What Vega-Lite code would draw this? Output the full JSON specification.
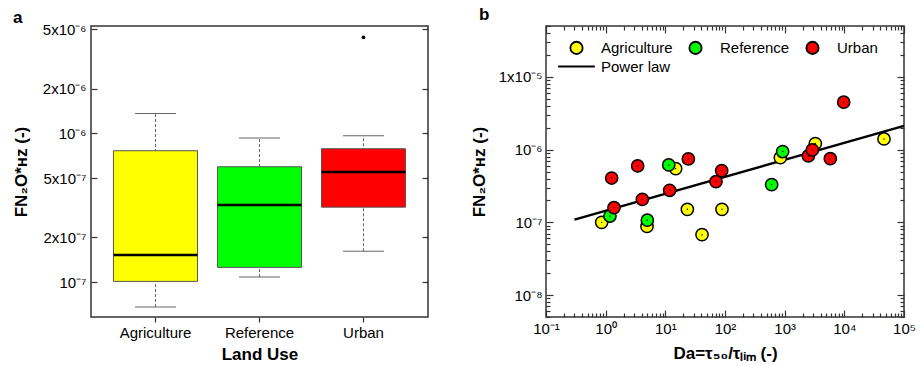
{
  "$schema": "https://vega.github.io/schema/vega-lite/v6.json",
  "padding": {"left": 11, "top": 5, "right": 5, "bottom": 0},
  "resolve": {"scale": {"fill": "independent", "shape": "independent"}, "legend": {"fill": "independent", "shape": "independent"}},
  "config": {
    "font": "Liberation Sans",
    "view": {"stroke": "#333", "strokeWidth": 1.5},
    "axis": {"domain": false, "grid": false, "labelFont": "Liberation Sans", "labelFontSize": 15, "labelColor": "#000", "titleFont": "Liberation Sans", "titleFontSize": 17, "titleFontWeight": "bold", "titleColor": "#000", "tickColor": "#333", "tickWidth": 1.2, "labelFlush": false, "labelOverlap": false},
    "title": {"font": "Liberation Sans", "fontSize": 17, "fontWeight": "bold", "anchor": "start", "frame": "group", "color": "#000"},
    "concat": {"spacing": 39}
  },
  "datasets": {
    "boxes": [
      {"land": "Agriculture", "lower": 6.79e-8, "q1": 1.01e-7, "median": 1.52e-7, "q3": 7.64e-7, "upper": 1.36e-6},
      {"land": "Reference", "lower": 1.08e-7, "q1": 1.255e-7, "median": 3.30e-7, "q3": 5.96e-7, "upper": 9.3e-7},
      {"land": "Urban", "lower": 1.61e-7, "q1": 3.19e-7, "median": 5.49e-7, "q3": 7.88e-7, "upper": 9.64e-7}
    ],
    "outliers": [
      {"land": "Urban", "value": 4.42e-6}
    ],
    "points": [
      {"group": "Agriculture", "da": 0.857, "fn": 1.0e-7},
      {"group": "Agriculture", "da": 4.93, "fn": 8.8e-8},
      {"group": "Agriculture", "da": 14.9, "fn": 5.48e-7},
      {"group": "Agriculture", "da": 23.4, "fn": 1.51e-7},
      {"group": "Agriculture", "da": 41.2, "fn": 6.77e-8},
      {"group": "Agriculture", "da": 89, "fn": 1.51e-7},
      {"group": "Agriculture", "da": 846, "fn": 7.76e-7},
      {"group": "Agriculture", "da": 3266, "fn": 1.21e-6},
      {"group": "Agriculture", "da": 46200, "fn": 1.40e-6},
      {"group": "Reference", "da": 1.18, "fn": 1.22e-7},
      {"group": "Reference", "da": 4.99, "fn": 1.07e-7},
      {"group": "Reference", "da": 11.4, "fn": 6.15e-7},
      {"group": "Reference", "da": 605, "fn": 3.30e-7},
      {"group": "Reference", "da": 925, "fn": 9.4e-7},
      {"group": "Urban", "da": 1.26, "fn": 4.07e-7},
      {"group": "Urban", "da": 1.38, "fn": 1.59e-7},
      {"group": "Urban", "da": 3.44, "fn": 5.96e-7},
      {"group": "Urban", "da": 4.12, "fn": 2.07e-7},
      {"group": "Urban", "da": 11.8, "fn": 2.76e-7},
      {"group": "Urban", "da": 24.3, "fn": 7.44e-7},
      {"group": "Urban", "da": 70.6, "fn": 3.63e-7},
      {"group": "Urban", "da": 88, "fn": 5.14e-7},
      {"group": "Urban", "da": 2494, "fn": 8.19e-7},
      {"group": "Urban", "da": 2910, "fn": 9.9e-7},
      {"group": "Urban", "da": 5820, "fn": 7.5e-7},
      {"group": "Urban", "da": 9750, "fn": 4.48e-6}
    ],
    "powerlaw": [
      {"da": 0.3, "fn": 1.09e-7},
      {"da": 100000, "fn": 2.12e-6}
    ]
  },
  "hconcat": [
    {
      "title": {"text": "a", "dx": -78, "offset": -5},
      "width": 337,
      "height": 291,
      "resolve": {"axis": {"y": "independent"}},
      "layer": [
        {
          "data": {"name": "boxes"},
          "mark": {"type": "rule", "strokeDash": [3, 2], "color": "#666", "strokeWidth": 1},
          "encoding": {
            "x": {"field": "land", "type": "nominal", "scale": {"paddingInner": 0.192, "paddingOuter": 0.216},
              "axis": {"title": "Land Use", "labelAngle": 0, "tickSize": 5, "labelPadding": 3, "titlePadding": 6}},
            "y": {"field": "lower", "type": "quantitative", "scale": {"type": "log", "domain": [5.82e-8, 5.27e-6], "nice": false},
              "axis": {"title": "FN₂O*ʜᴢ (-)", "values": [1e-7, 2e-7, 5e-7, 1e-6, 2e-6, 5e-6],
                "labelExpr": "datum.value < 1.5e-7 ? '10⁻⁷' : datum.value < 3e-7 ? '2x10⁻⁷' : datum.value < 7e-7 ? '5x10⁻⁷' : datum.value < 1.5e-6 ? '10⁻⁶' : datum.value < 3e-6 ? '2x10⁻⁶' : '5x10⁻⁶'",
                "tickSize": -6, "labelPadding": 11, "titlePadding": 12}},
            "y2": {"field": "upper"}
          }
        },
        {
          "data": {"name": "boxes"},
          "mark": {"type": "bar", "stroke": "#555", "strokeWidth": 1},
          "encoding": {
            "x": {"field": "land", "type": "nominal"},
            "y": {"field": "q1", "type": "quantitative",
              "axis": {"orient": "right", "title": null, "labels": false, "values": [1e-7, 2e-7, 5e-7, 1e-6, 2e-6, 5e-6], "tickSize": -6, "minExtent": 0, "maxExtent": 0}},
            "y2": {"field": "q3"},
            "fill": {"field": "land", "type": "nominal", "scale": {"domain": ["Agriculture", "Reference", "Urban"], "range": ["#ffff00", "#00ff00", "#ff0000"]}, "legend": null}
          }
        },
        {
          "data": {"name": "boxes"},
          "mark": {"type": "tick", "color": "#000", "thickness": 2.5, "size": 84, "opacity": 1},
          "encoding": {
            "x": {"field": "land", "type": "nominal"},
            "y": {"field": "median", "type": "quantitative", "axis": null}
          }
        },
        {
          "data": {"name": "boxes"},
          "mark": {"type": "tick", "color": "#666", "thickness": 1, "size": 41, "opacity": 1},
          "encoding": {
            "x": {"field": "land", "type": "nominal"},
            "y": {"field": "lower", "type": "quantitative", "axis": null}
          }
        },
        {
          "data": {"name": "boxes"},
          "mark": {"type": "tick", "color": "#666", "thickness": 1, "size": 41, "opacity": 1},
          "encoding": {
            "x": {"field": "land", "type": "nominal"},
            "y": {"field": "upper", "type": "quantitative", "axis": null}
          }
        },
        {
          "data": {"name": "outliers"},
          "mark": {"type": "point", "filled": true, "color": "#000", "size": 14, "opacity": 1},
          "encoding": {
            "x": {"field": "land", "type": "nominal"},
            "y": {"field": "value", "type": "quantitative", "axis": null}
          }
        }
      ]
    },
    {
      "title": {"text": "b", "dx": -67, "offset": -5},
      "width": 358,
      "height": 291,
      "resolve": {"axis": {"x": "independent", "y": "independent"}},
      "layer": [
        {
          "data": {"name": "powerlaw"},
          "mark": {"type": "line", "color": "#000", "strokeWidth": 2.5},
          "encoding": {
            "x": {"field": "da", "type": "quantitative", "scale": {"type": "log", "domain": [0.1, 100000], "nice": false},
              "axis": {"title": "Da=τ₅₀/τₗᵢₘ (-)", "values": [0.1,0.2,0.3,0.4,0.5,0.6,0.7,0.8,0.9,1,2,3,4,5,6,7,8,9,10,20,30,40,50,60,70,80,90,100,200,300,400,500,600,700,800,900,1000,2000,3000,4000,5000,6000,7000,8000,9000,10000,20000,30000,40000,50000,60000,70000,80000,90000,100000],
                "labelExpr": "abs(log(datum.value)/LN10 - round(log(datum.value)/LN10)) > 0.001 ? '' : ['10⁻¹','10⁰','10¹','10²','10³','10⁴','10⁵'][round(log(datum.value)/LN10)+1]",
                "tickSize": {"condition": {"test": "abs(log(datum.value)/LN10 - round(log(datum.value)/LN10)) < 0.001", "value": -7}, "value": -4},
                "labelPadding": 11, "titlePadding": 6}},
            "y": {"field": "fn", "type": "quantitative", "scale": {"type": "log", "domain": [5e-9, 5e-5], "nice": false},
              "axis": {"title": "FN₂O*ʜᴢ (-)", "values": [5e-9,6e-9,7e-9,8e-9,9e-9,1e-8,2e-8,3e-8,4e-8,5e-8,6e-8,7e-8,8e-8,9e-8,1e-7,2e-7,3e-7,4e-7,5e-7,6e-7,7e-7,8e-7,9e-7,1e-6,2e-6,3e-6,4e-6,5e-6,6e-6,7e-6,8e-6,9e-6,1e-5,2e-5,3e-5,4e-5,5e-5],
                "labelExpr": "abs(log(datum.value)/LN10 - round(log(datum.value)/LN10)) > 0.001 ? '' : ['10⁻⁸','10⁻⁷','10⁻⁶','1x10⁻⁵'][round(log(datum.value)/LN10)+8]",
                "tickSize": {"condition": {"test": "abs(log(datum.value)/LN10 - round(log(datum.value)/LN10)) < 0.001", "value": -7}, "value": -4},
                "labelPadding": 11, "titlePadding": 10}}
          }
        },
        {
          "data": {"name": "points"},
          "mark": {"type": "point", "filled": true, "stroke": "#000", "strokeWidth": 1.5, "size": 150, "opacity": 1},
          "encoding": {
            "x": {"field": "da", "type": "quantitative",
              "axis": {"orient": "top", "title": null, "labels": false, "values": [0.1,0.2,0.3,0.4,0.5,0.6,0.7,0.8,0.9,1,2,3,4,5,6,7,8,9,10,20,30,40,50,60,70,80,90,100,200,300,400,500,600,700,800,900,1000,2000,3000,4000,5000,6000,7000,8000,9000,10000,20000,30000,40000,50000,60000,70000,80000,90000,100000],
                "tickSize": {"condition": {"test": "abs(log(datum.value)/LN10 - round(log(datum.value)/LN10)) < 0.001", "value": -7}, "value": -4},
                "minExtent": 0, "maxExtent": 0}},
            "y": {"field": "fn", "type": "quantitative",
              "axis": {"orient": "right", "title": null, "labels": false, "values": [5e-9,6e-9,7e-9,8e-9,9e-9,1e-8,2e-8,3e-8,4e-8,5e-8,6e-8,7e-8,8e-8,9e-8,1e-7,2e-7,3e-7,4e-7,5e-7,6e-7,7e-7,8e-7,9e-7,1e-6,2e-6,3e-6,4e-6,5e-6,6e-6,7e-6,8e-6,9e-6,1e-5,2e-5,3e-5,4e-5,5e-5],
                "tickSize": {"condition": {"test": "abs(log(datum.value)/LN10 - round(log(datum.value)/LN10)) < 0.001", "value": -7}, "value": -4},
                "minExtent": 0, "maxExtent": 0}},
            "fill": {"field": "group", "type": "nominal",
              "scale": {"domain": ["Agriculture", "Reference", "Urban", "Power law"], "range": ["#ffff00", "#00ff00", "#ff0000", "#000000"]},
              "legend": {"orient": "none", "legendX": 23, "legendY": 14, "direction": "horizontal", "columns": 3, "title": null,
                "labelFont": "Liberation Sans", "labelFontSize": 15, "labelColor": "#000", "symbolSize": 150, "labelOffset": 17,
                "columnPadding": 12, "rowPadding": 1, "padding": 0, "symbolStrokeColor": "#000", "symbolStrokeWidth": 1.8}},
            "shape": {"field": "group", "type": "nominal",
              "scale": {"domain": ["Agriculture", "Reference", "Urban", "Power law"], "range": ["circle", "circle", "circle", "M-3,0L3,0"]}}
          }
        },
        {
          "data": {"name": "points"},
          "mark": {"type": "point", "filled": true, "color": "#000", "size": 2, "opacity": 1},
          "encoding": {
            "x": {"field": "da", "type": "quantitative", "axis": null},
            "y": {"field": "fn", "type": "quantitative", "axis": null}
          }
        }
      ]
    }
  ]
}
